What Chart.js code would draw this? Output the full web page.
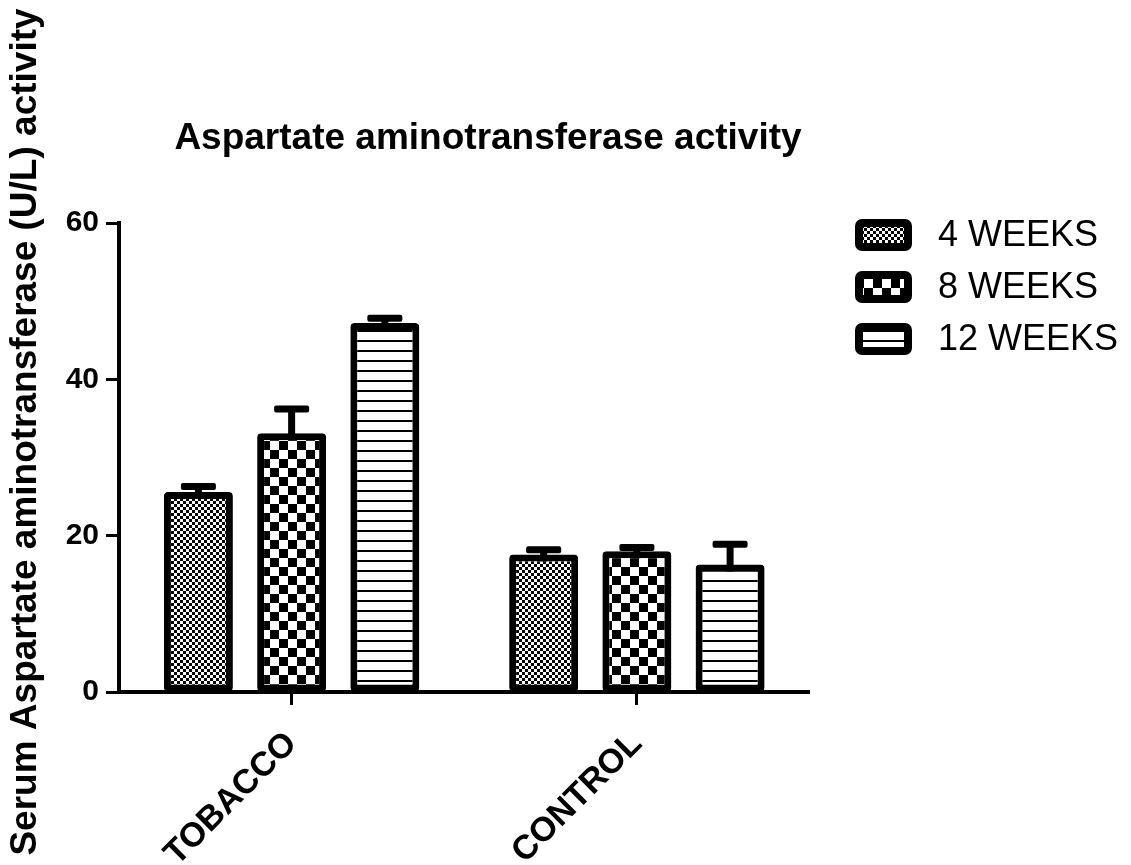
<!DOCTYPE html>
<html>
<head>
<meta charset="utf-8">
<script src="https://cdn.jsdelivr.net/npm/chart.js@4.4.1/dist/chart.umd.min.js"></script>
<style>
  html, body { margin: 0; padding: 0; background: #fff; }
  #wrap { width: 1131px; height: 865px; position: relative; }
</style>
</head>
<body>
<div id="wrap"><canvas id="c"></canvas></div>
<script>
// Serum AST activity (U/L), mean and upper error per group
const categories = ['TOBACCO', 'CONTROL'];
const seriesNames = ['4 WEEKS', '8 WEEKS', '12 WEEKS'];
const weeks4 = [25.6, 17.6];
const weeks8 = [33.1, 18.0];
const weeks12 = [47.2, 16.3];
const err4 = [0.7, 0.6];
const err8 = [3.1, 0.5];
const err12 = [0.6, 2.6];
const yTicks = [0, 20, 40, 60];

const chartTitle = 'Aspartate aminotransferase activity';
const yTitle = 'Serum Aspartate aminotransferase (U/L) activity';

const FONT = '"Liberation Sans", Arial, Helvetica, sans-serif';

// black-and-white fill patterns
function makeTile(w, h, draw) {
  const c = document.createElement('canvas');
  c.width = w; c.height = h;
  const g = c.getContext('2d');
  g.fillStyle = '#fff'; g.fillRect(0, 0, w, h);
  g.fillStyle = '#000';
  draw(g);
  return c;
}
const canvas = document.getElementById('c');
const ctx = canvas.getContext('2d');
const fineDots = ctx.createPattern(makeTile(6, 6, g => { g.fillRect(0, 0, 3, 3); g.fillRect(3, 3, 3, 3); }), 'repeat');
const checker = ctx.createPattern(makeTile(18, 18, g => { g.fillRect(0, 0, 9, 9); g.fillRect(9, 9, 9, 9); }), 'repeat');
const hLines = ctx.createPattern(makeTile(10, 10, g => { g.fillRect(0, 0, 10, 2); }), 'repeat');

const barStyle = {
  borderColor: '#000',
  borderWidth: 7,
  borderRadius: 4,
  borderSkipped: false,
  barPercentage: 0.74,
  categoryPercentage: 0.81
};

// upward error bars with a flat cap
const errorBars = {
  id: 'errorBars',
  afterDatasetsDraw(chart, args, opts) {
    const c = chart.ctx, y = chart.scales.y;
    c.save();
    c.fillStyle = '#000';
    chart.data.datasets.forEach((ds, i) => {
      const meta = chart.getDatasetMeta(i);
      meta.data.forEach((bar, j) => {
        const top = y.getPixelForValue(ds.data[j] + ds.errors[j]);
        c.fillRect(bar.x - opts.width / 2, top, opts.width, bar.y - top + opts.width);
        c.beginPath();
        c.roundRect(bar.x - opts.capWidth / 2, top - opts.width / 2, opts.capWidth, opts.width, 2);
        c.fill();
      });
    });
    c.restore();
  }
};

// title, rotated y-axis title and pattern legend
const chartText = {
  id: 'chartText',
  afterDraw(chart, args, opts) {
    const c = chart.ctx;
    c.save();
    c.fillStyle = '#000';
    c.textAlign = 'center';
    c.textBaseline = 'alphabetic';
    c.font = 'bold 37px ' + FONT;
    c.fillText(chartTitle, opts.titleX, opts.titleY);

    c.save();
    c.translate(opts.yTitleX, opts.yTitleY);
    c.rotate(-Math.PI / 2);
    c.fillText(yTitle, 0, 0);
    c.restore();

    c.textAlign = 'left';
    c.textBaseline = 'middle';
    c.font = '36px ' + FONT;
    chart.data.datasets.forEach((ds, i) => {
      const cy = opts.legendY + i * opts.legendGap;
      const w = opts.swatchW, h = opts.swatchH, lw = 8;
      c.beginPath();
      c.roundRect(opts.legendX + lw / 2, cy - h / 2 + lw / 2, w - lw, h - lw, 3);
      c.fillStyle = ds.backgroundColor;
      c.fill();
      c.lineWidth = lw;
      c.strokeStyle = '#000';
      c.stroke();
      c.fillStyle = '#000';
      c.fillText(ds.label, opts.legendX + w + opts.textGap, cy + 1);
    });
    c.restore();
  }
};

new Chart(canvas, {
  type: 'bar',
  data: {
    labels: categories,
    datasets: [
      Object.assign({ label: seriesNames[0], data: weeks4, errors: err4, backgroundColor: fineDots }, barStyle),
      Object.assign({ label: seriesNames[1], data: weeks8, errors: err8, backgroundColor: checker }, barStyle),
      Object.assign({ label: seriesNames[2], data: weeks12, errors: err12, backgroundColor: hLines }, barStyle)
    ]
  },
  options: {
    responsive: true,
    maintainAspectRatio: false,
    animation: false,
    events: [],
    layout: { padding: { top: 223, left: 66, right: 321.5, bottom: 0 } },
    plugins: {
      legend: { display: false },
      title: { display: false },
      tooltip: { enabled: false },
      errorBars: { width: 7, capWidth: 35 },
      chartText: {
        titleX: 488, titleY: 149,
        yTitleX: 36, yTitleY: 432,
        legendX: 855, legendY: 235, legendGap: 52,
        swatchW: 57, swatchH: 32, textGap: 26
      }
    },
    scales: {
      x: {
        offset: true,
        grid: { display: true, drawOnChartArea: false, drawTicks: true, tickLength: 13, tickWidth: 3, tickColor: '#000', offset: false },
        border: { display: true, color: '#000', width: 4 },
        ticks: { color: '#000', font: { family: FONT, size: 34, weight: 'bold' }, minRotation: 45, maxRotation: 45, padding: 19 },
        afterFit: s => { s.height = 173; }
      },
      y: {
        min: 0,
        max: 60,
        afterBuildTicks: s => { s.ticks = yTicks.map(v => ({ value: v })); },
        grid: { display: true, drawOnChartArea: false, tickLength: 13, tickWidth: 3, tickColor: '#000' },
        border: { display: true, color: '#000', width: 4 },
        ticks: { color: '#000', font: { family: FONT, size: 30, weight: 'bold' }, padding: 7 },
        afterFit: s => { s.width = 53; }
      }
    }
  },
  plugins: [errorBars, chartText]
});
</script>
</body>
</html>
